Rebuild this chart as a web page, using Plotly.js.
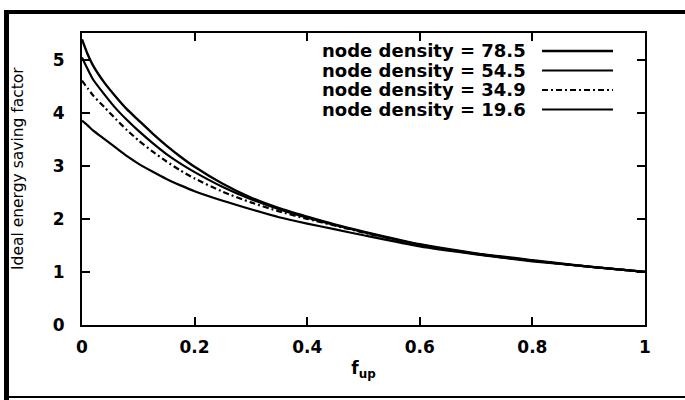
<!DOCTYPE html>
<html>
<head>
<meta charset="utf-8">
<script src="https://cdn.plot.ly/plotly-3.0.1.min.js"></script>
<style>html,body{margin:0;padding:0;background:#fff;}#chart{width:685px;height:400px;}</style>
</head>
<body>
<div id="chart"></div>
<script>
// f_up values (x axis)
const fUp = [0, 0.01, 0.02, 0.04, 0.06, 0.08, 0.1, 0.125, 0.15, 0.175, 0.2, 0.25, 0.3, 0.35, 0.4, 0.45, 0.5, 0.6, 0.7, 0.8, 0.9, 1.0];
// Ideal energy saving factor per node density
const density785 = [5.38, 5.10, 4.88, 4.56, 4.30, 4.06, 3.86, 3.61, 3.38, 3.17, 2.98, 2.66, 2.40, 2.20, 2.04, 1.89, 1.76, 1.52, 1.35, 1.22, 1.10, 1.00];
const density545 = [5.04, 4.82, 4.62, 4.34, 4.08, 3.86, 3.66, 3.43, 3.22, 3.04, 2.88, 2.60, 2.37, 2.18, 2.02, 1.88, 1.75, 1.51, 1.34, 1.21, 1.10, 1.00];
const density349 = [4.60, 4.46, 4.32, 4.10, 3.88, 3.67, 3.48, 3.27, 3.08, 2.91, 2.76, 2.51, 2.31, 2.14, 2.00, 1.87, 1.74, 1.51, 1.34, 1.21, 1.10, 1.00];
const density196 = [3.85, 3.76, 3.66, 3.50, 3.34, 3.18, 3.04, 2.89, 2.75, 2.63, 2.52, 2.34, 2.18, 2.03, 1.91, 1.80, 1.69, 1.48, 1.33, 1.20, 1.10, 1.00];
const seriesLabels = ["node density = 78.5", "node density = 54.5", "node density = 34.9", "node density = 19.6"];
const xTickVals = [0, 0.2, 0.4, 0.6, 0.8, 1];
const xTickText = ["0", "0.2", "0.4", "0.6", "0.8", "1"];
const yTickVals = [0, 1, 2, 3, 4, 5];
const yTickText = ["0", "1", "2", "3", "4", "5"];
const yTitle = "Ideal energy saving factor";

const seriesY = [density785, density545, density349, density196];
const dashes = ["solid", "solid", "6px,3px,2px,3px", "solid"];
const widths = [2.4, 2.2, 2.2, 2.2];

const traces = seriesY.map((ys, i) => ({
  x: fUp, y: ys, type: "scatter", mode: "lines",
  name: seriesLabels[i], showlegend: false,
  line: {color: "#000", width: widths[i], dash: dashes[i], shape: "spline", smoothing: 0.6}
}));

const FONT = "DejaVu Sans, Arial, sans-serif";
// key: text on the left, sample line on the right (gnuplot style)
const keyRowsY = [0.9384, 0.8716, 0.8048, 0.7380];
const annotations = seriesLabels.map((t, i) => ({
  xref: "paper", yref: "paper", x: 0.7904, y: keyRowsY[i],
  xanchor: "right", yanchor: "middle", showarrow: false, borderpad: 0,
  text: t, font: {family: FONT, size: 18, color: "#000", weight: "bold"}
}));
annotations.push({
  xref: "paper", yref: "paper", x: -0.1137, y: 0.5377, textangle: -90,
  xanchor: "center", yanchor: "middle", showarrow: false,
  text: yTitle, font: {family: FONT, size: 15.5, color: "#000"}
});
const shapes = seriesLabels.map((t, i) => ({
  type: "line", xref: "paper", yref: "paper",
  x0: 0.8171, x1: 0.9432, y0: keyRowsY[i], y1: keyRowsY[i],
  line: {color: "#000", width: widths[i], dash: dashes[i]}
}));
// scanned outer frame
shapes.push({type: "line", xref: "paper", yref: "paper", x0: -0.1385, x1: 1.0711, y0: 1.0719, y1: 1.0719, line: {color: "#000", width: 4}});
shapes.push({type: "line", xref: "paper", yref: "paper", x0: -0.1341, x1: -0.1341, y0: 1.0788, y1: -0.2568, line: {color: "#000", width: 5}});
shapes.push({type: "line", xref: "paper", yref: "paper", x0: -0.1385, x1: 1.0711, y0: -0.2466, y1: -0.2466, line: {color: "#000", width: 2}});

const layout = {
  width: 685, height: 400,
  margin: {l: 82, r: 40, t: 33, b: 75, pad: 0},
  paper_bgcolor: "#fff", plot_bgcolor: "#fff",
  font: {family: FONT, color: "#000"},
  showlegend: false,
  xaxis: {
    range: [0, 1], tickvals: xTickVals, ticktext: xTickText,
    ticks: "inside", ticklen: 8, tickwidth: 2, tickcolor: "#000",
    showline: true, linecolor: "#000", linewidth: 2, mirror: "ticks",
    showgrid: false, zeroline: false, ticklabelstandoff: 6,
    tickfont: {family: FONT, size: 17, color: "#000", weight: "bold"},
    title: {text: "f<sub>up</sub>", standoff: 6, font: {family: FONT, size: 17, color: "#000", weight: "bold"}}
  },
  yaxis: {
    range: [0, 5.5], tickvals: yTickVals, ticktext: yTickText,
    ticks: "inside", ticklen: 8, tickwidth: 2, tickcolor: "#000",
    showline: true, linecolor: "#000", linewidth: 2, mirror: "ticks",
    showgrid: false, zeroline: false, ticklabelstandoff: 12,
    tickfont: {family: FONT, size: 17, color: "#000", weight: "bold"}
  },
  annotations: annotations,
  shapes: shapes
};

Plotly.newPlot("chart", traces, layout, {displayModeBar: false, staticPlot: true});
</script>
</body>
</html>
